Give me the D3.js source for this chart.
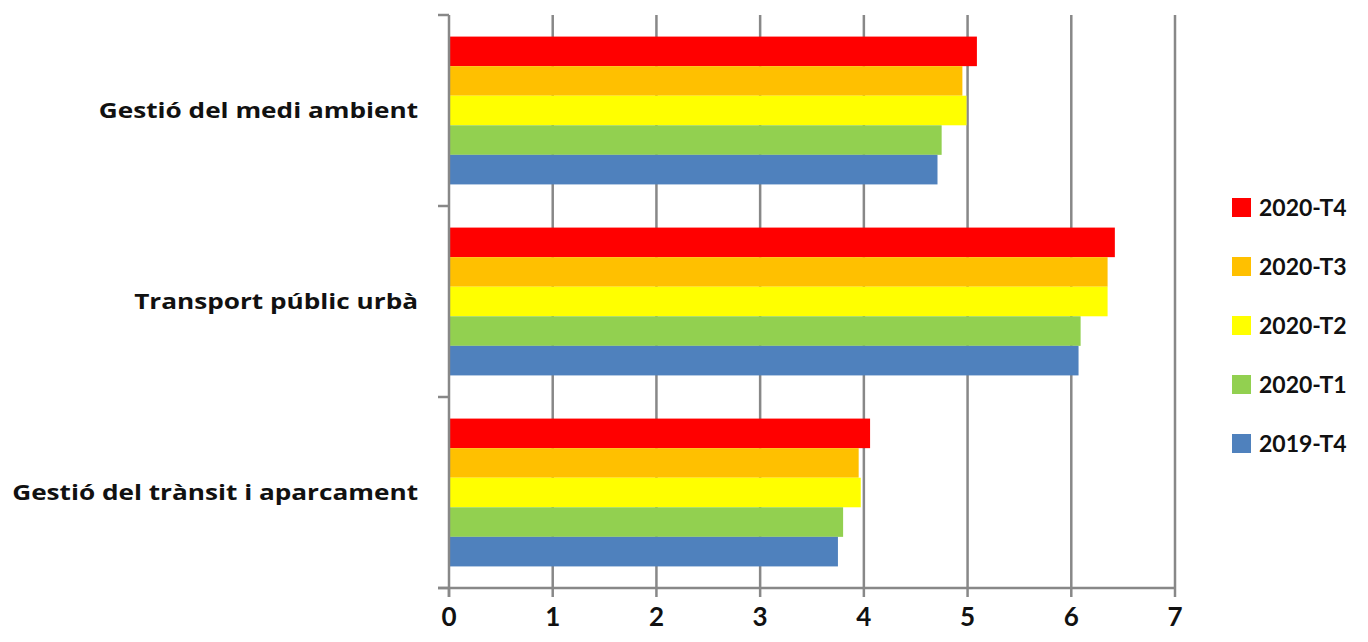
<!DOCTYPE html>
<html>
<head>
<meta charset="utf-8">
<script src="https://cdn.jsdelivr.net/npm/d3@7"></script>
<style>
  html, body { margin: 0; padding: 0; background: #fff; }
  svg { display: block; }
  text { font-family: Lato, "Open Sans", sans-serif; font-weight: 700; fill: #111; }
  text.cat { font-family: "Open Sans", Lato, sans-serif; }
</style>
</head>
<body>
<svg id="chart" width="1368" height="642"></svg>
<script>
// Categories (top to bottom) and quarterly series
const categories = ["Gestió del medi ambient", "Transport públic urbà", "Gestió del trànsit i aparcament"];
const seriesNames = ["2020-T4", "2020-T3", "2020-T2", "2020-T1", "2019-T4"];
const seriesColors = ["#ff0000", "#ffc000", "#ffff00", "#92d050", "#4f81bd"];

// Values per series, in category order
const v2020T4 = [5.09, 6.42, 4.06];
const v2020T3 = [4.95, 6.35, 3.95];
const v2020T2 = [4.99, 6.35, 3.97];
const v2020T1 = [4.75, 6.09, 3.80];
const v2019T4 = [4.71, 6.07, 3.75];

const xTicks = [0, 1, 2, 3, 4, 5, 6, 7];

const seriesValues = [v2020T4, v2020T3, v2020T2, v2020T1, v2019T4];

const svg = d3.select("#chart");
const plotLeft = 449, plotRight = 1175, plotTop = 15, plotBottom = 588;
const gridColor = "#888888";

const x = d3.scaleLinear().domain([0, 7]).range([plotLeft, plotRight]);
const y = d3.scaleBand().domain(categories).range([plotTop, plotBottom]).paddingInner(0).paddingOuter(0);
const ySub = d3.scaleBand().domain(seriesNames).range([0, y.bandwidth()]).paddingInner(0).paddingOuter(0.73);

// vertical gridlines
svg.append("g")
  .selectAll("line")
  .data(xTicks.filter(d => d > 0))
  .join("line")
  .attr("x1", d => x(d)).attr("x2", d => x(d))
  .attr("y1", plotTop).attr("y2", plotBottom)
  .attr("stroke", gridColor).attr("stroke-width", 2.5);

// bars
const rows = [];
categories.forEach((c, ci) => {
  seriesNames.forEach((s, si) => {
    rows.push({ cat: c, series: s, value: seriesValues[si][ci], color: seriesColors[si] });
  });
});
svg.append("g")
  .selectAll("rect")
  .data(rows)
  .join("rect")
  .attr("x", x(0))
  .attr("y", d => y(d.cat) + ySub(d.series))
  .attr("width", d => x(d.value) - x(0))
  .attr("height", ySub.bandwidth())
  .attr("fill", d => d.color);

// bottom axis
const xAxis = svg.append("g").attr("transform", `translate(0,${plotBottom})`);
xAxis.append("line")
  .attr("x1", plotLeft - 11).attr("x2", plotRight + 1)
  .attr("stroke", gridColor).attr("stroke-width", 2.5);
xAxis.selectAll("line.tick")
  .data(xTicks)
  .join("line")
  .attr("class", "tick")
  .attr("x1", d => x(d)).attr("x2", d => x(d))
  .attr("y1", 0).attr("y2", 9)
  .attr("stroke", gridColor).attr("stroke-width", 2.5);
xAxis.selectAll("text")
  .data(xTicks)
  .join("text")
  .attr("x", d => x(d))
  .attr("y", 38)
  .attr("text-anchor", "middle")
  .attr("font-size", 26)
  .text(d => d);

// left axis
const yAxis = svg.append("g");
yAxis.append("line")
  .attr("x1", plotLeft).attr("x2", plotLeft)
  .attr("y1", plotTop).attr("y2", plotBottom + 9)
  .attr("stroke", gridColor).attr("stroke-width", 2.5);
const yTickPos = [plotTop, ...categories.map(c => y(c) + y.bandwidth())];
yAxis.selectAll("line.tick")
  .data(yTickPos)
  .join("line")
  .attr("class", "tick")
  .attr("x1", plotLeft - 11).attr("x2", plotLeft)
  .attr("y1", d => d).attr("y2", d => d)
  .attr("stroke", gridColor).attr("stroke-width", 2.5);
// category labels, slightly widened to the wide bold face of the axis
yAxis.selectAll("text")
  .data(categories)
  .join("text")
  .attr("class", "cat")
  .attr("transform", d => `translate(418,${y(d) + y.bandwidth() / 2}) scale(1.19,1)`)
  .attr("dy", "0.36em")
  .attr("text-anchor", "end")
  .attr("font-size", 22)
  .text(d => d);

// legend
const legend = svg.append("g").attr("transform", "translate(1232,198)");
const item = legend.selectAll("g")
  .data(seriesNames)
  .join("g")
  .attr("transform", (d, i) => `translate(0,${i * 59})`);
item.append("rect")
  .attr("width", 19).attr("height", 19)
  .attr("fill", (d, i) => seriesColors[i]);
item.append("text")
  .attr("x", 27).attr("y", 10)
  .attr("dy", "0.36em")
  .attr("font-size", 23)
  .text(d => d);
</script>
</body>
</html>
